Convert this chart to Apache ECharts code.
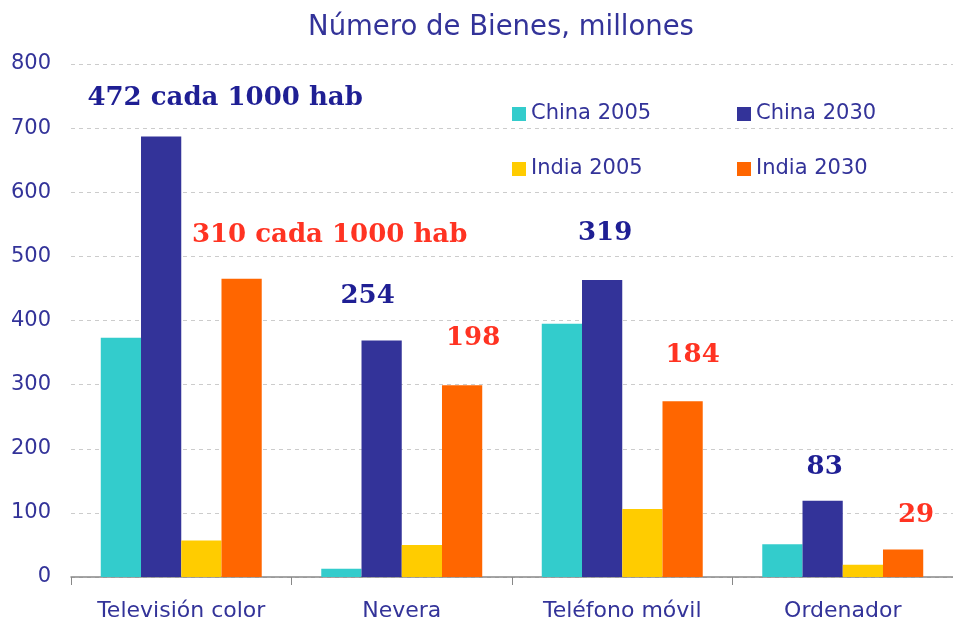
<!DOCTYPE html>
<html>
<head>
<meta charset="utf-8">
<script src="https://cdn.jsdelivr.net/npm/echarts@6/dist/echarts.min.js"></script>
<style>
  html, body { margin: 0; padding: 0; background: #fff; }
  #main { width: 953px; height: 622px; }
</style>
</head>
<body>
<div id="main"></div>
<script>
// datos
var categorias = ['Televisión color', 'Nevera', 'Teléfono móvil', 'Ordenador'];
var china2005 = [373, 13, 395, 51];
var china2030 = [687, 369, 463, 119];
var india2005 = [57, 50, 106, 19];
var india2030 = [465, 299, 274, 43];
var etiquetasChina = ['472 cada 1000 hab', '254', '319', '83'];
var etiquetasIndia = ['310 cada 1000 hab', '198', '184', '29'];

var azul = '#333399';
var textoAzul = '#1f1f94';
var textoRojo = '#ff3322';

// desplazamiento de cada etiqueta respecto a la barra
var offsChina = [[64, -20], [-14, -26], [3, -29], [2, -15]];
var offsIndia = [[88, -26], [11, -29], [10, -28], [13, -16]];

function conEtiquetas (valores, textos, offs, color) {
    return valores.map(function (v, i) {
        return {
            value: v,
            label: {
                show: true,
                position: 'top',
                offset: offs[i],
                formatter: textos[i],
                color: color,
                fontFamily: 'DejaVu Serif',
                fontWeight: 'bold',
                fontSize: 26
            }
        }
    })
}

var estiloLeyenda = { color: azul, fontFamily: 'DejaVu Sans', fontSize: 21, lineHeight: 22 }

var chart = echarts.init(document.getElementById('main'))
var option = {
    animation: false,
    title: {
        text: 'Número de Bienes, millones',
        left: 496,
        top: 9,
        textAlign: 'center',
        textStyle: { color: azul, fontFamily: 'DejaVu Sans', fontWeight: 'normal', fontSize: 27.5 }
    },
    legend: [
        {
            data: ['China 2005', 'India 2005'],
            orient: 'vertical',
            left: 507,
            top: 98,
            icon: 'rect',
            itemWidth: 14,
            itemHeight: 14,
            itemGap: 33,
            textStyle: estiloLeyenda
        },
        {
            data: ['China 2030', 'India 2030'],
            orient: 'vertical',
            left: 732,
            top: 98,
            icon: 'rect',
            itemWidth: 14,
            itemHeight: 14,
            itemGap: 33,
            textStyle: estiloLeyenda
        }
    ],
    grid: {
        left: 71,
        right: 0,
        top: 64,
        bottom: 44
    },
    xAxis: {
        type: 'category',
        data: categorias,
        axisLine: { lineStyle: { color: '#888888', width: 1.5 } },
        axisTick: { show: true, length: 8, lineStyle: { color: '#888888' } },
        axisLabel: { color: azul, fontFamily: 'DejaVu Sans', fontSize: 22, margin: 23 }
    },
    yAxis: {
        type: 'value',
        min: 0,
        max: 800,
        interval: 100,
        axisLine: { show: false },
        axisTick: { show: false },
        axisLabel: { color: azul, fontFamily: 'DejaVu Sans', fontSize: 21, margin: 20 },
        splitLine: { lineStyle: { color: '#cccccc', type: [4, 4] } }
    },
    series: [
        {
            name: 'China 2005',
            type: 'bar',
            data: china2005,
            itemStyle: { color: '#33cccc' },
            barGap: 0,
            barCategoryGap: '27%'
        },
        {
            name: 'China 2030',
            type: 'bar',
            data: conEtiquetas(china2030, etiquetasChina, offsChina, textoAzul),
            itemStyle: { color: azul }
        },
        {
            name: 'India 2005',
            type: 'bar',
            data: india2005,
            itemStyle: { color: '#ffcc00' }
        },
        {
            name: 'India 2030',
            type: 'bar',
            data: conEtiquetas(india2030, etiquetasIndia, offsIndia, textoRojo),
            itemStyle: { color: '#ff6600' }
        }
    ]
}
chart.setOption(option)
</script>
</body>
</html>
